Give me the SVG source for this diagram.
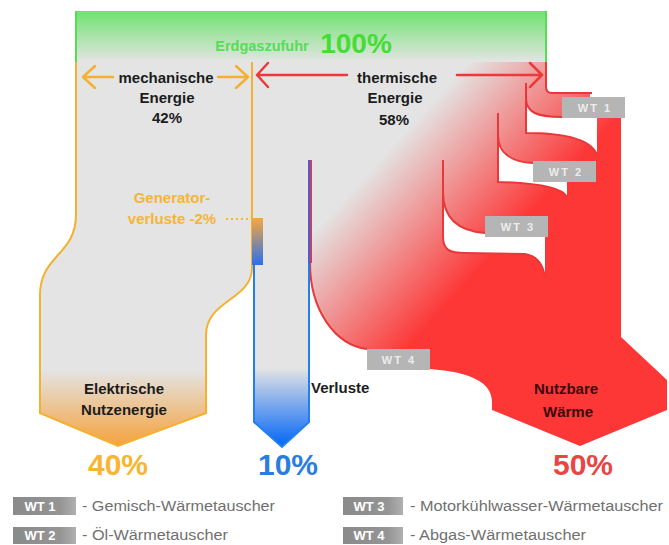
<svg xmlns="http://www.w3.org/2000/svg" width="669" height="545" viewBox="0 0 669 545">
<defs>
<linearGradient id="gGreen" gradientUnits="userSpaceOnUse" x1="0" y1="11" x2="0" y2="62">
<stop offset="0" stop-color="#6fe36f"/><stop offset="1" stop-color="#e4e4e4"/>
</linearGradient>
<linearGradient id="gOrange" gradientUnits="userSpaceOnUse" x1="0" y1="370" x2="0" y2="446">
<stop offset="0" stop-color="#e4e4e4"/><stop offset="1" stop-color="#f5a23c"/>
</linearGradient>
<linearGradient id="gBlue" gradientUnits="userSpaceOnUse" x1="0" y1="368" x2="0" y2="442">
<stop offset="0" stop-color="#e4e4e4"/><stop offset="1" stop-color="#0f6cf6"/>
</linearGradient>
<linearGradient id="gRed" gradientUnits="userSpaceOnUse" x1="370" y1="170" x2="480" y2="270">
<stop offset="0" stop-color="#e4e4e4"/><stop offset="1" stop-color="#fd3636"/>
</linearGradient>
<linearGradient id="gGen" gradientUnits="userSpaceOnUse" x1="0" y1="218" x2="0" y2="265">
<stop offset="0" stop-color="#f8a838"/><stop offset="1" stop-color="#2a6ff0"/>
</linearGradient>
<linearGradient id="gLeg" x1="0" y1="0" x2="1" y2="0">
<stop offset="0" stop-color="#8a8a8a"/><stop offset="0.75" stop-color="#959595"/><stop offset="1" stop-color="#b0b0b0"/>
</linearGradient>
<style>
text{font-family:"Liberation Sans",Arial,sans-serif;}
.lbl{font-size:15px;font-weight:bold;fill:#1c1c1c;text-anchor:middle;}
.lbls{font-size:15px;font-weight:bold;fill:#1c1c1c;text-anchor:start;}
.pct{font-size:30px;font-weight:bold;text-anchor:middle;}
.wt rect{fill:#b5b5b5;}
.wt text{font-size:11px;font-weight:bold;fill:#ececec;text-anchor:middle;letter-spacing:2px;}
.fin{fill:#ffffff;}
.redln{fill:none;stroke:#e8383a;stroke-width:2;}
.legbox{fill:url(#gLeg);}
.legwt{font-size:13px;font-weight:bold;fill:#ffffff;text-anchor:middle;}
.legtx{font-size:15.5px;fill:#707070;}
</style>
</defs>
<rect width="669" height="545" fill="#ffffff"/>

<g id="erdgaszufuhr">
<rect x="76" y="11" width="470" height="51" fill="url(#gGreen)"/>
<line x1="76" y1="11" x2="76" y2="62" stroke="#55dd55" stroke-width="2"/>
<line x1="546" y1="11" x2="546" y2="62" stroke="#55dd55" stroke-width="2"/>
<text x="262" y="51" text-anchor="middle" font-size="14.5" font-weight="bold" fill="#55dd55">Erdgaszufuhr</text>
<text x="356" y="53" text-anchor="middle" font-size="28" font-weight="bold" fill="#44dd33">100%</text>
</g>

<rect x="250" y="61" width="62" height="208" fill="#e4e4e4"/>

<g id="mechanische-energie">
<path d="M76,62 L76,215 C76,255 40,255 40,295 L40,413 L118,446 L206,413 L206,335 C206,300 252,300 252,268 L252,62" fill="url(#gOrange)" stroke="#f6b030" stroke-width="2"/>
<text class="lbl" x="166" y="83">mechanische</text>
<text class="lbl" x="167" y="103">Energie</text>
<text class="lbl" x="167" y="123">42%</text>
<text class="lbl" x="124" y="394">Elektrische</text>
<text class="lbl" x="124" y="415">Nutzenergie</text>
<text class="pct" x="118" y="475" fill="#f7b531">40%</text>
</g>

<g id="thermische-energie">
<path d="M310,62 L546,62 L546,87 Q546,93 552,93 L590,93 L590,97 L621,97 L621,337 L667,380 L667,410 L580,446 L492,410 L492,402 C492,382 470,372 430,369 L430,349 L367,349 C335,345 310,310 310,263 Z" fill="url(#gRed)"/>
<path class="redln" d="M546,62 L546,87 Q546,93 552,93 L592,93"/>
<path class="redln" d="M310,263 C310,310 335,345 367,349"/>
<text class="lbl" x="397" y="83">thermische</text>
<text class="lbl" x="395" y="103">Energie</text>
<text class="lbl" x="394" y="125">58%</text>
<text class="lbl" x="566" y="394" style="fill:#3a0c0c">Nutzbare</text>
<text class="lbl" x="568" y="417" style="fill:#3a0c0c">Wärme</text>
<text class="pct" x="583" y="475" fill="#e84545">50%</text>
</g>

<g id="wt1">
<path class="fin" d="M526,98 C526,112 536,117 562,117 L597,117 L597,155 C590,136 555,133 526,133 Z"/>
<path class="redln" d="M526,83 L526,133 C555,133 590,136 597,155"/>
<path class="redln" d="M526,98 C526,112 536,117 562,117"/>
<g class="wt"><rect x="562" y="97" width="63" height="21"/><text x="595" y="112">WT 1</text></g>
</g>

<g id="wt2">
<path class="fin" d="M498,135 C498,152 510,162 533,163 L567,163 L567,197 C562,187 535,183 498,182 Z"/>
<path class="redln" d="M498,113 L498,182 C535,183 562,187 567,197"/>
<path class="redln" d="M498,135 C498,152 510,162 533,163"/>
<g class="wt"><rect x="533" y="161" width="63" height="21"/><text x="566" y="176">WT 2</text></g>
</g>

<g id="wt3">
<path class="fin" d="M443,192 C443,218 458,231 485,233 L545,233 L545,277 C543,265 538,256 525,254 L465,253 C450,253 443,250 443,237 Z"/>
<path class="redln" d="M443,160 L443,237 C443,250 450,253 465,253 L525,254 C538,256 543,265 545,277"/>
<path class="redln" d="M443,192 C443,218 458,231 485,233"/>
<g class="wt"><rect x="485" y="216" width="63" height="21"/><text x="518" y="231">WT 3</text></g>
</g>

<g id="verluste">
<path d="M254,265 L254,422 L282,447 L309,422 L309,160" fill="url(#gBlue)" stroke="#2280ee" stroke-width="2"/>
<line x1="311" y1="160" x2="311" y2="263" stroke="#b8466a" stroke-width="2"/>
<line x1="309" y1="160" x2="309" y2="263" stroke="#5a5ac0" stroke-width="2"/>
<text class="lbls" x="311" y="393">Verluste</text>
<text class="pct" x="288" y="475" fill="#2a7de0">10%</text>
</g>

<g id="wt4">
<g class="wt"><rect x="367" y="349" width="63" height="21"/><text x="399" y="364">WT 4</text></g>
</g>

<g id="generatorverluste">
<rect x="252" y="218" width="11" height="47" fill="url(#gGen)"/>
<text x="172" y="203" text-anchor="middle" font-size="15" font-weight="bold" fill="#f5b537">Generator-</text>
<text x="172" y="224" text-anchor="middle" font-size="15" font-weight="bold" fill="#f5b537">verluste -2%</text>
<line x1="226" y1="219" x2="248" y2="219" stroke="#f5b537" stroke-width="2" stroke-dasharray="2,3"/>
</g>

<g id="connectors">
<g fill="none" stroke="#f6b030" stroke-width="2.5" stroke-linecap="round" stroke-linejoin="round">
<path d="M83,77 L113,77 M95,66 L83,77 L95,88"/>
<path d="M218,77 L248,77 M236,66 L248,77 L236,88"/>
</g>
<g fill="none" stroke="#ec3a3a" stroke-width="2.5" stroke-linecap="round" stroke-linejoin="round">
<path d="M257,75 L347,75 M268,63 L257,75 L268,87"/>
<path d="M457,75 L542,75 M530,63 L542,75 L530,87"/>
</g>
</g>

<g id="legende">
<rect class="legbox" x="13" y="497" width="63" height="18"/><text class="legwt" x="40" y="511">WT 1</text>
<text class="legtx" x="82" y="511" textLength="193" lengthAdjust="spacingAndGlyphs">- Gemisch-Wärmetauscher</text>
<rect class="legbox" x="13" y="527" width="63" height="17"/><text class="legwt" x="40" y="540">WT 2</text>
<text class="legtx" x="82" y="540" textLength="146" lengthAdjust="spacingAndGlyphs">- Öl-Wärmetauscher</text>
<rect class="legbox" x="343" y="497" width="60" height="18"/><text class="legwt" x="369" y="511">WT 3</text>
<text class="legtx" x="410" y="511" textLength="253" lengthAdjust="spacingAndGlyphs">- Motorkühlwasser-Wärmetauscher</text>
<rect class="legbox" x="343" y="527" width="60" height="17"/><text class="legwt" x="369" y="540">WT 4</text>
<text class="legtx" x="410" y="540" textLength="176" lengthAdjust="spacingAndGlyphs">- Abgas-Wärmetauscher</text>
</g>
</svg>
